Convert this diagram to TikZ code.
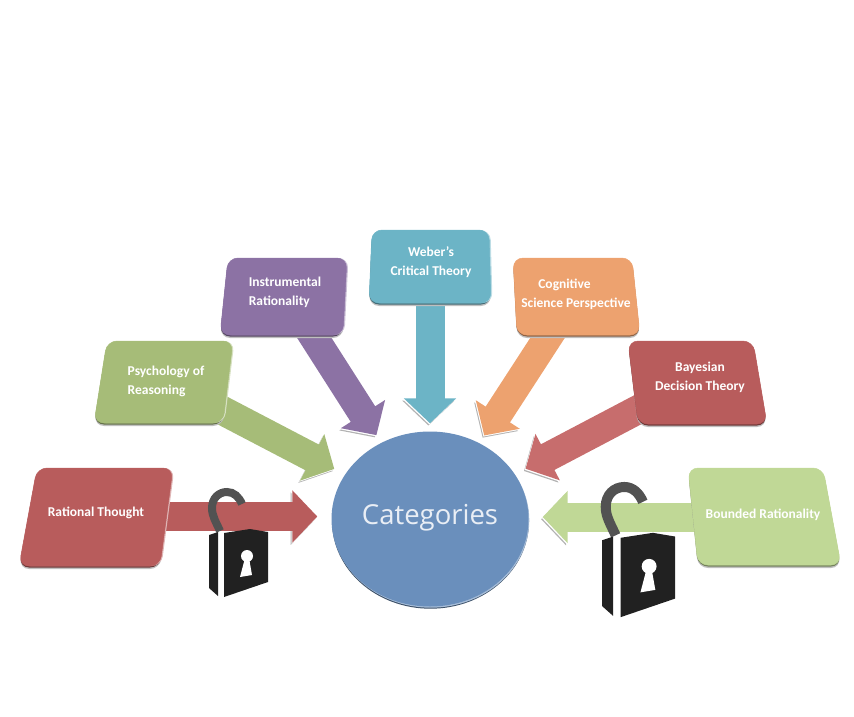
\documentclass[tikz,border=0pt]{standalone}
\usepackage{fontspec}
\setmainfont{Carlito}
\newfontfamily\catfont{Open Sans}
\usetikzlibrary{positioning,arrows.meta,shapes.geometric}
\pgfdeclarelayer{arrowlayer}
\pgfdeclarelayer{boxlayer}
\pgfsetlayers{arrowlayer,boxlayer,main}
\definecolor{redbox}{HTML}{B85C5C}
\definecolor{redarrow}{HTML}{C76D6D}
\definecolor{greenbox}{HTML}{A6BC78}
\definecolor{purplebox}{HTML}{8C72A4}
\definecolor{tealbox}{HTML}{6CB4C6}
\definecolor{orangebox}{HTML}{EDA26F}
\definecolor{limebox}{HTML}{C0D896}
\definecolor{bluedisc}{HTML}{6A8FBC}
\tikzset{
catbox/.style={rounded corners=10pt, fill=#1, draw=#1, line width=.5pt,
  preaction={fill=black!25, transform canvas={yshift=-3pt}},
  preaction={fill=#1!60!black, transform canvas={yshift=-1.5pt}}},
leftbox/.style={catbox=#1,
  preaction={fill=#1!45!white, transform canvas={xshift=1.5pt}}},
catlabel/.style={text=white, font=\fontsize{13.5}{19}\selectfont\bfseries, inner sep=1pt},
catarrow/.style={line width=29pt, draw=#1, -{Triangle[length=25pt,width=51pt]},
  preaction={draw=black!30, transform canvas={xshift=-1.6pt,yshift=-2.2pt}},
  preaction={draw=white, transform canvas={xshift=-.8pt,yshift=-1.1pt}}},
pics/padlock/.style={code={
  \draw[line width=#1, draw=black!68] (11,43) .. controls (7,34) and (3,28) .. (3,20) .. controls (3,10) and (10,4) .. (18,4) .. controls (25,4) and (30,9) .. (33,16);
  \fill[black!87] (0,47) -- (9,44) -- (9,108) -- (0,100) -- cycle;
  \fill[black!87] (15,45) -- (41,41) -- (59,44) -- (59,94) -- (15,109) -- cycle;
  \fill[white] (38,68) circle (6);
  \fill[white] (36,70) -- (31,89) -- (43,87) -- (40,70) -- cycle;
}},
}
\begin{document}
\begin{tikzpicture}[x=1pt,y=-1pt]
\useasboundingbox (0,0) rectangle (854,717);
\node[ellipse, minimum width=197pt, minimum height=175pt, inner sep=0pt, fill=bluedisc,
  preaction={fill=bluedisc!55!black, transform canvas={xshift=.5pt,yshift=-2.2pt}},
  preaction={fill=bluedisc!60!white, transform canvas={xshift=.8pt,yshift=-1.2pt}}] (cat) at (430,519) {};
\node[text=white!85!bluedisc, font=\catfont\fontsize{27.5}{30}\selectfont] (catname) at (430,518) {Categories};

\node[catlabel] (rational) at (96,513) {Rational Thought};
\node[catlabel, align=left] (psych) at (166,381) {Psychology of\\Reasoning};
\node[catlabel, align=left] (instr) at (285,292) {Instrumental\\Rationality};
\node[catlabel, align=center] (weber) at (431,262) {Weber's\\Critical Theory};
\node[catlabel, align=left] (cogn) at (576,294) {\hspace*{17pt}Cognitive\\Science Perspective};
\node[catlabel, align=center] (bayes) at (700,377) {Bayesian\\Decision Theory};
\node[catlabel] (bounded) at (763,515) {Bounded Rationality};

\begin{pgfonlayer}{boxlayer}
\draw[leftbox=redbox] (37,468) -- (173,468) -- (160,566) -- (19,566) -- cycle;
\draw[leftbox=greenbox] (107,341) -- (233,341) -- (223,423) -- (94,423) -- cycle;
\draw[leftbox=purplebox] (228,258) -- (347,258) -- (343,335) -- (220,335) -- cycle;
\draw[leftbox=tealbox] (372,230) -- (489,230) -- (491,303) -- (369,303) -- cycle;
\draw[catbox=orangebox] (513,258) -- (632,258) -- (640,335) -- (517,335) -- cycle;
\draw[catbox=redbox] (628,341) -- (753,341) -- (767,424) -- (638,424) -- cycle;
\draw[catbox=limebox] (688,468) -- (823,468) -- (841,565) -- (698,565) -- cycle;
\end{pgfonlayer}

\begin{pgfonlayer}{arrowlayer}
\draw[catarrow=redbox, shorten >=14pt] ([yshift=-3.5pt]rational.east) -- ([yshift=-3.5pt]rational.east -| cat.west);
\draw[catarrow=greenbox, shorten >=12pt] (psych) -- (cat);
\draw[catarrow=purplebox, shorten >=9pt] (instr) -- (cat);
\draw[catarrow=tealbox, shorten >=8pt] (weber.south -| cat.north) -- (cat.north);
\draw[catarrow=orangebox, shorten >=9pt] (cogn) -- (cat);
\draw[catarrow=redarrow, shorten >=12pt] (bayes) -- (cat);
\draw[catarrow=limebox, shorten >=14pt] ([yshift=-2pt]bounded.west) -- ([yshift=-2pt]bounded.west -| cat.east);
\end{pgfonlayer}

\pic at (209,488) {padlock=8pt};
\pic[scale=1.24] at (602,482) {padlock=10pt};
\end{tikzpicture}
\end{document}
